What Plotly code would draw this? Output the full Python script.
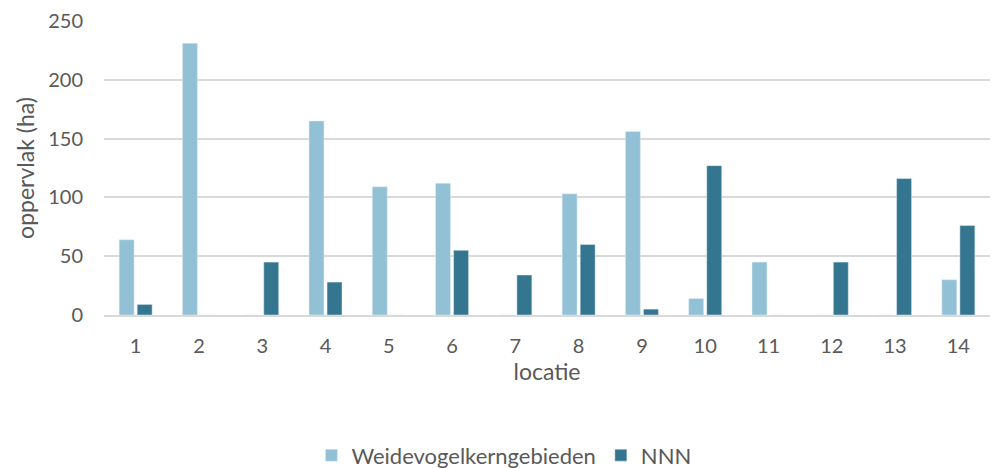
import plotly.graph_objects as go

locaties = ["1", "2", "3", "4", "5", "6", "7", "8", "9", "10", "11", "12", "13", "14"]
weidevogel = [64, 231, 0, 165, 109, 112, 0, 103, 156, 14, 45, 0, 0, 30]
nnn = [9, 0, 45, 28, 0, 55, 34, 60, 5, 127, 0, 45, 116, 76]

font_family = "Lato, 'Open Sans', sans-serif"
grey = "#595959"

fig = go.Figure()
fig.add_trace(go.Bar(x=locaties, y=weidevogel, name="Weidevogelkerngebieden",
                     marker_color="#92c1d5"))
fig.add_trace(go.Bar(x=locaties, y=nnn, name="NNN", marker_color="#34758f"))

fig.update_layout(
    width=992, height=468,
    margin=dict(l=104, r=2, t=21, b=153, autoexpand=False),
    paper_bgcolor="white", plot_bgcolor="white",
    barmode="group", bargap=0.43, bargroupgap=0.17,
    font=dict(family=font_family, color=grey, size=20),
    legend=dict(orientation="h", xref="container", yref="container",
                x=0.508, y=0.027, xanchor="center", yanchor="middle",
                font=dict(size=22, color=grey), itemwidth=30,
                traceorder="normal"),
    xaxis=dict(type="category", showgrid=False, showline=True, automargin=False,
               linecolor="#d9d9d9", linewidth=1.5, ticks="",
               ticklabelstandoff=12,
               tickfont=dict(size=20, color=grey),
               title=dict(text="locatie", font=dict(size=23, color=grey), standoff=8)),
    yaxis=dict(range=[0, 250], tickvals=[0, 50, 100, 150, 200, 250],
               showgrid=True, gridcolor="#d9d9d9", gridwidth=1.5, automargin=False,
               zeroline=False, ticks="", ticklabelstandoff=20,
               tickfont=dict(size=20, color=grey),
               title=dict(text="oppervlak (ha)", font=dict(size=23, color=grey), standoff=7)),
)

fig.write_html("out.html", config={"displayModeBar": False},
               post_script="document.body.style.margin='0';document.body.style.overflow='hidden';")
